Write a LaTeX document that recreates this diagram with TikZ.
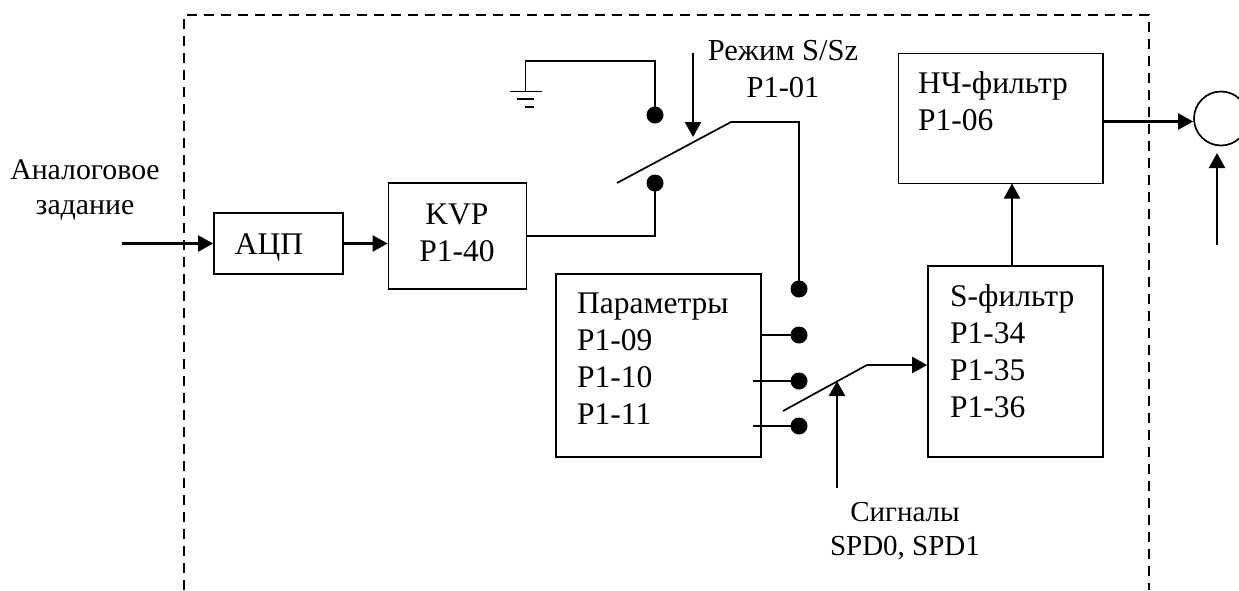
\documentclass[tikz,border=0pt]{standalone}
\usepackage{fontspec}
\setmainfont{Liberation Serif}
\usetikzlibrary{arrows.meta}
\tikzset{
  blk/.style={draw,line width=1.7pt,inner sep=0pt},
  lbl/.style={font=\fontsize{31.5}{37}\selectfont,align=left,inner sep=0pt,anchor=north west},
  clbl/.style={font=\fontsize{31.5}{37}\selectfont,align=center,inner sep=0pt},
  wire/.style={line width=1.7pt},
  sig/.style={line width=2.3pt,-{Triangle[length=15pt,width=16pt]}},
  dot/.style={circle,fill=black,inner sep=0pt,minimum size=17pt},
  frame/.style={line width=1.7pt,dash pattern=on 10pt off 7pt}
}
\begin{document}
\begin{tikzpicture}[x=1pt,y=-1pt]
\useasboundingbox (0,0) rectangle (1239,590);
\begin{scope}
\clip (0,0) rectangle (1239,590);
\coordinate (fa) at (184,590);
\coordinate (fb) at (184,15);
\coordinate (fc) at (1149,15);
\coordinate (fd) at (1149,590);
\draw[frame] (fa) -- (fb) -- (fc) -- (fd);
\node[blk,minimum width=129pt,minimum height=61pt] (adc) at (278.5,243.5) {};
\node[clbl,anchor=base] (adct) at (269,254) {АЦП};
\node[blk,minimum width=138pt,minimum height=106pt] (kvp) at (457.5,236) {};
\node[clbl] (kvpt) at (457,233) {KVP\\P1-40};
\node[blk,minimum width=205.5pt,minimum height=183pt] (par) at (658.5,365.5) {};
\node[lbl] (part) at (577,293) {Параметры\\P1-09\\P1-10\\P1-11};
\node[blk,minimum width=175pt,minimum height=191pt] (sf) at (1015.5,361.5) {};
\node[lbl] (sft) at (950,284) {S-фильтр\\P1-34\\P1-35\\P1-36};
\node[blk,minimum width=204.5pt,minimum height=130pt] (lp) at (1000.75,118.5) {};
\node[lbl] (lpt) at (918,71) {НЧ-фильтр\\P1-06};
\node[draw,circle,line width=1.7pt,minimum size=54pt,inner sep=0pt] (sum) at (1221,118.5) {};
\node[clbl,font=\fontsize{29.8}{35}\selectfont] (ain) at (85,190) {Аналоговое\\задание};
\node[clbl,font=\fontsize{30.5}{37}\selectfont] (mode) at (783,69) {Режим S/Sz\\P1-01};
\node[clbl,font=\fontsize{29}{34}\selectfont] (sigs) at (905,531.5) {Сигналы\\SPD0, SPD1};
\node[dot] (d1) at (655,115) {};
\node[dot] (d2) at (655,183) {};
\node[dot] (d3) at (799,289) {};
\node[dot] (d4) at (799,335) {};
\node[dot] (d5) at (799,381) {};
\node[dot] (d6) at (799,426) {};
\coordinate (g0) at (525.5,91.5);
\coordinate (g1) at (525.5,61);
\coordinate (g2) at (655,61);
\draw[wire] (d1.center) -- (g2) -- (g1) -- (g0);
\coordinate (ga1) at (510,91.5);\coordinate (ga2) at (541.5,91.5);
\coordinate (gb1) at (517,99);\coordinate (gb2) at (534,99);
\coordinate (gc1) at (525,107);\coordinate (gc2) at (534,107);
\draw[wire] (ga1) -- (ga2) (gb1) -- (gb2) (gc1) -- (gc2);
\coordinate (sw1a) at (617,183);
\coordinate (sw1b) at (731,122);
\coordinate (sw1c) at (799,122);
\draw[wire] (sw1a) -- (sw1b) -- (sw1c) -- (d3.center);
\draw[wire] (kvp.east) -- (kvp.east -| d2.center) -- (d2.center);
\draw[wire] (par.east |- d4) -- (d4.center);
\coordinate (p5) at (753,381);
\coordinate (p6) at (753,426);
\draw[wire] (p5) -- (d5.center);
\draw[wire] (p6) -- (d6.center);
\coordinate (sw2a) at (783,411);
\coordinate (sw2b) at (867,365);
\draw[wire] (sw2a) -- (sw2b);
\draw[sig] (sw2b) -- (sf.west |- sw2b);
\coordinate (m0) at (693,53);\coordinate (m1) at (693,137);
\draw[sig] (m0) -- (m1);
\coordinate (s0) at (837,488);\coordinate (s1) at (837,381);
\draw[sig] (s0) -- (s1);
\coordinate (in0) at (122,243.5);
\draw[sig] (in0) -- (adc.west |- in0);
\draw[sig] (adc.east) -- (kvp.west |- adc.east);
\coordinate (u0) at (1012,266);\coordinate (u1) at (1012,183.5);
\draw[sig] (u0) -- (u1);
\coordinate (o0) at (1103,121.5);
\draw[sig] (o0) -- (sum.west |- o0);
\coordinate (f0) at (1217,245);\coordinate (f1) at (1217,153);
\draw[sig] (f0) -- (f1);
\end{scope}
\end{tikzpicture}
\end{document}
